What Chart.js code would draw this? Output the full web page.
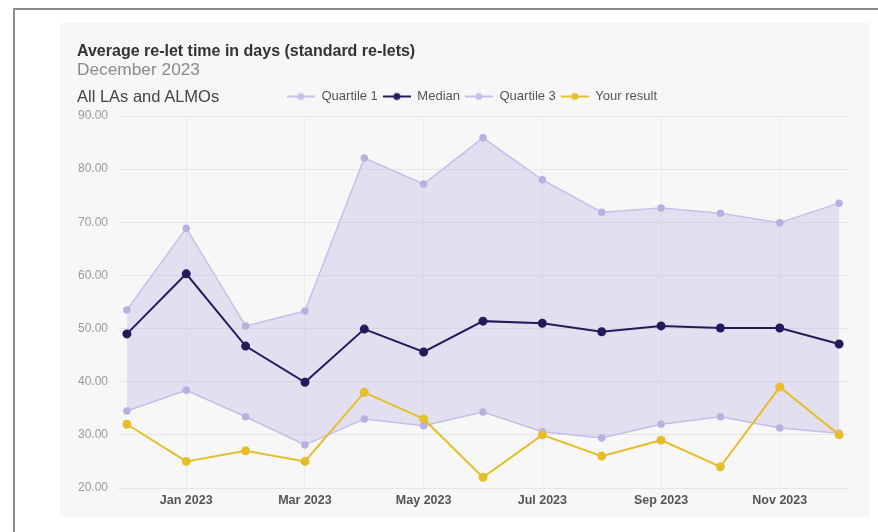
<!DOCTYPE html>
<html>
<head>
<meta charset="utf-8">
<script src="https://cdn.jsdelivr.net/npm/chart.js@4.4.1/dist/chart.umd.min.js"></script>
<style>
  html, body { margin: 0; padding: 0; background: #ffffff; }
  body { width: 878px; height: 532px; position: relative; overflow: hidden; font-family: 'Liberation Sans', Arial, sans-serif; }
  #frame { position: absolute; left: 13px; top: 8px; width: 900px; height: 560px; border-left: 2px solid #8c8c8c; border-top: 2px solid #8c8c8c; }
  #card { position: absolute; left: 60px; top: 23px; width: 810px; height: 494px; background: #f7f7f7; }
  #chartBox { position: absolute; left: 0; top: 0; width: 810px; height: 494px; }
  .txt { position: absolute; left: 17px; white-space: nowrap; }
  #title { top: 19px; font-size: 16px; font-weight: bold; color: #333333; }
  #subtitle { top: 36px; font-size: 17.3px; color: #8a8a8a; }
  #group { top: 64px; font-size: 16.5px; color: #444444; }
</style>
</head>
<body>
<div id="frame"></div>
<div id="card">
  <div id="chartBox"><canvas id="chart" width="810" height="494"></canvas></div>
  <div class="txt" id="title">Average re-let time in days (standard re-lets)</div>
  <div class="txt" id="subtitle">December 2023</div>
  <div class="txt" id="group">All LAs and ALMOs</div>
</div>
<script>
// Months shown on the x axis (Dec 2022 – Dec 2023)
const months = ['Dec 2022', 'Jan 2023', 'Feb 2023', 'Mar 2023', 'Apr 2023', 'May 2023', 'Jun 2023',
                'Jul 2023', 'Aug 2023', 'Sep 2023', 'Oct 2023', 'Nov 2023', 'Dec 2023'];
// Months that carry a tick label and a vertical grid line
const labelledMonths = [1, 3, 5, 7, 9, 11];

// Average re-let time in days
const quartile1  = [34.5, 38.4, 33.4, 28.1, 33.0, 31.7, 34.3, 30.6, 29.4, 32.0, 33.4, 31.3, 30.3];
const median     = [49.0, 60.3, 46.7, 39.9, 49.9, 45.6, 51.4, 51.0, 49.4, 50.5, 50.1, 50.1, 47.1];
const quartile3  = [53.5, 68.9, 50.5, 53.3, 82.1, 77.2, 85.9, 78.0, 71.9, 72.7, 71.7, 69.9, 73.6];
const yourResult = [32, 25, 27, 25, 38, 33, 22, 30, 26, 29, 24, 39, 30];

const seriesNames = ['Quartile 1', 'Median', 'Quartile 3', 'Your result'];

const LAVENDER = '#c6c0ea';
const LAVENDER_PT = '#b8b1e0';
const NAVY = '#231b5b';
const GOLD = '#e6be2c';

const toPoints = arr => arr.map((v, i) => ({ x: i, y: v }));

// Legend marker: short line with a dot in the middle
function legendIcon(color) {
  const c = document.createElement('canvas');
  c.width = 28; c.height = 10;
  const g = c.getContext('2d');
  g.strokeStyle = color; g.lineWidth = 2;
  g.beginPath(); g.moveTo(0, 5); g.lineTo(28, 5); g.stroke();
  g.fillStyle = color;
  g.beginPath(); g.arc(14, 5, 3.5, 0, Math.PI * 2); g.fill();
  return c;
}
const icons = [legendIcon(LAVENDER), legendIcon(NAVY), legendIcon(LAVENDER), legendIcon(GOLD)];

// Legend placement: extra gap below the row and a small shift to the right
const legendPlacement = {
  id: 'legendPlacement',
  beforeInit(chart) {
    const fit = chart.legend.fit;
    chart.legend.fit = function () { fit.call(this); this.height += 3; };
  },
  afterLayout(chart) {
    chart.legend.left += 13;
    chart.legend.right += 13;
  }
};

const FONT = "'Liberation Sans', Arial, sans-serif";

new Chart(document.getElementById('chart'), {
  type: 'line',
  data: {
    datasets: [
      { label: seriesNames[0], data: toPoints(quartile1), borderColor: LAVENDER, backgroundColor: LAVENDER_PT,
        pointBackgroundColor: LAVENDER_PT, pointBorderColor: LAVENDER_PT, borderWidth: 1.5, pointRadius: 3, fill: false, order: 3 },
      { label: seriesNames[1], data: toPoints(median), borderColor: NAVY, backgroundColor: NAVY,
        pointBackgroundColor: NAVY, pointBorderColor: NAVY, borderWidth: 2, pointRadius: 3.5, fill: false, order: 1 },
      { label: seriesNames[2], data: toPoints(quartile3), borderColor: LAVENDER, backgroundColor: 'rgba(186,180,228,0.36)',
        pointBackgroundColor: LAVENDER_PT, pointBorderColor: LAVENDER_PT, borderWidth: 1.5, pointRadius: 3, fill: 0, order: 2 },
      { label: seriesNames[3], data: toPoints(yourResult), borderColor: GOLD, backgroundColor: GOLD,
        pointBackgroundColor: GOLD, pointBorderColor: GOLD, borderWidth: 2, pointRadius: 3.5, fill: false, order: 0 }
    ]
  },
  options: {
    responsive: false,
    animation: false,
    layout: { padding: { left: 10, right: 22, top: 62, bottom: 4 } },
    plugins: {
      tooltip: { enabled: false },
      legend: {
        position: 'top',
        labels: {
          usePointStyle: true,
          pointStyleWidth: 28,
          padding: 5,
          color: '#555555',
          font: { family: FONT, size: 13 },
          sort: (a, b) => a.datasetIndex - b.datasetIndex,
          generateLabels(chart) {
            const items = Chart.defaults.plugins.legend.labels.generateLabels(chart);
            items.forEach(it => { it.pointStyle = icons[it.datasetIndex]; });
            return items;
          }
        }
      }
    },
    scales: {
      x: {
        type: 'linear',
        min: -0.15,
        max: 12.15,
        afterBuildTicks(scale) { scale.ticks = labelledMonths.map(v => ({ value: v })); },
        afterFit(scale) { scale.height = 25; },
        ticks: {
          autoSkip: false,
          maxRotation: 0,
          padding: 5,
          color: '#555555',
          font: { family: FONT, size: 12.5, weight: 'bold' },
          callback: v => months[v]
        },
        grid: { color: '#ececec', drawTicks: false },
        border: { display: false }
      },
      y: {
        min: 20,
        max: 90,
        afterFit(scale) { scale.width = 48; },
        ticks: {
          stepSize: 10,
          padding: 10,
          color: '#9a9a9a',
          font: { family: FONT, size: 12 },
          callback: v => v.toFixed(2)
        },
        grid: { color: '#e6e6e6', drawTicks: false },
        border: { display: false }
      }
    }
  },
  plugins: [legendPlacement]
});
</script>
</body>
</html>
